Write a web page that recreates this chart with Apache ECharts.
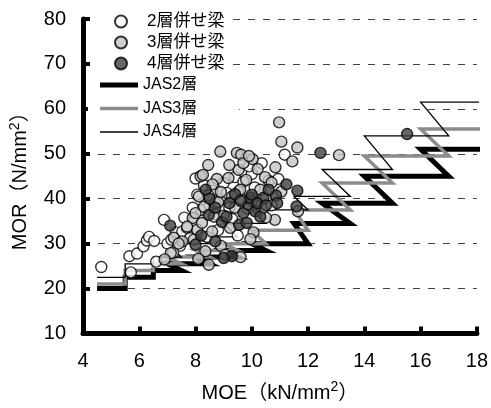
<!DOCTYPE html>
<html><head><meta charset="utf-8">
<script src="https://cdn.jsdelivr.net/npm/echarts@6/dist/echarts.min.js"></script>
<style>html,body{margin:0;padding:0;background:#fff}#c{width:491px;height:408px}</style>
</head><body><div id="c"></div>
<script>
// JAS grade MOE ranges (lower limit, mean) and bending strength per layer count
const gradeMOEmin = [4.5, 5.5, 6.5, 7.0, 8.0, 9.0, 10.0, 11.5, 12.5, 14.0, 16.0];
const gradeMOEmax = [5.5, 6.5, 7.5, 8.5, 9.5, 10.5, 12.0, 13.5, 15.0, 17.0, 18.2];
const jas2 = [20.0, 22.5, 24.0, 25.5, 27.0, 28.5, 30.0, 34.5, 39.0, 45.0, 51.0];
const jas3 = [21.0, 24.0, 25.5, 27.0, 28.5, 30.0, 33.0, 37.5, 43.5, 49.5, 55.5];
const jas4 = [22.5, 25.5, 27.0, 30.0, 31.5, 34.5, 37.5, 40.5, 46.5, 54.0, 61.5];

// measured beams [MOE, MOR]
const beams2 = [[4.65,24.8],[5.65,27.2],[5.7,23.6],[5.92,27.8],[6.15,29.4],[6.27,30.7],[6.35,31.5],[6.53,30.6],
 [6.88,35.3],[7.0,30.0],[7.14,30.9],[7.3,32.5],[7.45,29.5],[7.53,32.7],[7.7,33.5],[7.8,31.2],[7.6,35.8],
 [8.06,40.9],[8.2,37.5],[8.3,43.0],[8.5,38.5],[8.6,41.8],[8.7,36.5],[8.9,39.8],[9.0,43.5],[9.11,41.3],
 [9.2,38.0],[9.4,44.8],[9.3,35.5],[9.6,40.0],[9.7,43.8],[9.85,37.8],[10.0,45.5],[10.1,42.5],[10.35,47.9],
 [10.41,37.9],[10.6,44.0],[10.94,44.4],[10.5,40.0],[11.17,49.8],[10.7,38.5],[8.4,31.5],[8.8,33.0],
 [9.5,31.8],[7.9,38.0],[8.0,44.5],[9.9,47.2],[6.6,26.0],[7.2,28.0]];
const beams3 = [[7.12,27.9],[7.23,31.3],[7.53,30.5],[7.9,35.7],[7.94,30.9],[8.06,33.1],[8.12,40.5],[8.18,45.0],
 [8.23,34.6],[8.26,45.3],[8.35,28.3],[8.47,25.3],[8.47,40.7],[8.59,32.7],[8.7,39.0],[8.76,44.4],[8.8,39.2],
 [8.88,50.5],[9.17,44.6],[9.23,33.5],[9.47,50.2],[9.53,46.4],[9.53,41.6],[9.59,42.0],[9.62,49.8],[9.7,47.9],
 [10.03,48.8],[10.06,32.5],[10.21,46.6],[10.47,44.8],[10.7,43.6],[10.82,35.3],[10.84,47.0],[10.97,57.0],
 [11.05,52.7],[11.05,41.6],[11.44,48.3],[11.62,51.4],[11.64,37.2],[13.1,49.7],[8.0,36.8],[8.3,38.2],
 [8.6,43.2],[8.9,41.5],[9.0,36.2],[9.3,40.5],[9.4,38.0],[9.8,44.2],[10.0,39.5],[10.3,42.0],[7.7,33.8],
 [7.4,30.0],[8.9,29.5],[9.6,27.0],[9.05,27.5],[6.9,26.5],[8.1,26.6],[10.5,35.8],[9.95,31.0],[8.45,47.5],
 [9.2,47.5],[9.9,49.5],[8.65,36.0]];
const beams4 = [[7.1,34.0],[8.0,29.8],[8.36,42.0],[8.47,36.4],[8.94,34.8],[9.29,27.2],[9.55,34.2],[9.7,36.8],
 [9.82,34.6],[9.88,38.7],[9.94,40.2],[10.0,40.9],[10.12,37.2],[10.41,40.2],[10.86,40.7],[11.23,43.2],
 [11.59,38.3],[11.62,41.8],[12.44,50.2],[15.52,54.4],[9.4,41.0],[9.6,39.5],[10.2,39.0],[10.5,38.5],
 [10.3,36.0],[9.2,39.0],[8.7,38.0],[8.5,40.0],[9.1,36.0],[10.6,42.0],[10.9,39.0],[8.2,31.8],[9.0,26.8],[8.7,30.5]];

const xTicks = {min: 4, max: 18, interval: 2};
const yTicks = {min: 10, max: 80, interval: 10};
const names = {s2:'2層併せ梁', s3:'3層併せ梁', s4:'4層併せ梁', j2:'JAS2層', j3:'JAS3層', j4:'JAS4層'};

function stepPath(strength){
  const pts = [];
  for (let i = 0; i < strength.length; i++){
    pts.push([gradeMOEmin[i], strength[i]]);
    pts.push([gradeMOEmax[i], strength[i]]);
  }
  return pts;
}

const NUM = 'Liberation Sans, Arial, sans-serif';
const NARROW = 'Liberation Sans Narrow, Liberation Sans, Noto Sans CJK JP, sans-serif';
const LEG = 'Liberation Sans, Noto Sans CJK JP, sans-serif';

const axisCommon = {
  type:'value',
  axisLine:{show:true, lineStyle:{color:'#000', width:5, opacity:1}},
  axisTick:{show:true, inside:true, length:7, lineStyle:{color:'#000', width:4, opacity:1}},
};

const chart = echarts.init(document.getElementById('c'), null, {renderer:'canvas'});
const scatterCommon = {type:'scatter', symbol:'circle', symbolSize: 11, z: 5};
chart.setOption({
  animation:false,
  backgroundColor:'#fff',
  grid:{left:83, right:11, top:19, bottom:74, containLabel:false},
  xAxis:Object.assign({}, axisCommon, {min:xTicks.min, max:xTicks.max, interval:xTicks.interval,
    axisLabel:{fontSize:20, color:'#000', fontFamily:NUM, margin:18},
    splitLine:{show:false},
    name:'{t|MOE（kN/mm}{s|2}{t|）}', nameLocation:'middle', nameGap:47,
    nameTextStyle:{rich:{t:{fontSize:20, fontFamily:NARROW, color:'#000', lineHeight:24},
      s:{fontSize:14, fontFamily:NARROW, color:'#000', padding:[0,0,11,0]}}}
  }),
  yAxis:Object.assign({}, axisCommon, {min:yTicks.min, max:yTicks.max, interval:yTicks.interval,
    axisLabel:{fontSize:20, color:'#000', fontFamily:NUM, margin:17},
    splitLine:{show:true, lineStyle:{color:'#444', width:1, type:[7,8]}},
    name:'{t|MOR（N/mm}{s|2}{t|）}', nameLocation:'middle', nameGap:50, nameRotate:90,
    nameTextStyle:{rich:{t:{fontSize:20, fontFamily:NARROW, color:'#000', lineHeight:24},
      s:{fontSize:14, fontFamily:NARROW, color:'#000', padding:[0,0,11,0]}}}
  }),
  legend:[
    {data:[names.s2, names.s3, names.s4], orient:'vertical', left:94, top:6,
     itemWidth:30, itemHeight:12, itemGap:4, padding:[7,8,8,20], backgroundColor:'#fff',
     formatter:'{sp|}{name}',
     textStyle:{fontSize:17, fontFamily:LEG, color:'#000', rich:{sp:{width:6}}}},
    {data:[
       {name:names.j2, icon:'path://M0,0H38V5H0Z'},
       {name:names.j3, icon:'path://M0,0H38V3.5H0Z'},
       {name:names.j4, icon:'path://M0,0H38V1.3H0Z'}],
     orient:'vertical', left:88, top:73,
     itemWidth:38, itemHeight:14, itemGap:7.5, padding:[4,42,6,12], backgroundColor:'#fff',
     textStyle:{fontSize:16, fontFamily:LEG, color:'#000'}}
  ],
  series:[
    {name:names.j2, type:'line', data:stepPath(jas2), symbol:'none', clip:false, z:2,
     lineStyle:{color:'#000', width:5, join:'miter'}, itemStyle:{color:'#000'}},
    {name:names.j3, type:'line', data:stepPath(jas3), symbol:'none', clip:false, z:2,
     lineStyle:{color:'#8c8c8c', width:3.5, join:'miter'}, itemStyle:{color:'#8c8c8c'}},
    {name:names.j4, type:'line', data:stepPath(jas4), symbol:'none', clip:false, z:2,
     lineStyle:{color:'#000', width:1.3, join:'miter'}, itemStyle:{color:'#000'}},
    Object.assign({name:names.s2, data:beams2, itemStyle:{color:'#fff', borderColor:'#000', borderWidth:1.4}}, scatterCommon),
    Object.assign({name:names.s3, data:beams3, itemStyle:{color:'#c4c4c4', borderColor:'#000', borderWidth:1.4}}, scatterCommon),
    Object.assign({name:names.s4, data:beams4, itemStyle:{color:'#404040', borderColor:'#000', borderWidth:1.4}}, scatterCommon)
  ]
});
</script></body></html>
